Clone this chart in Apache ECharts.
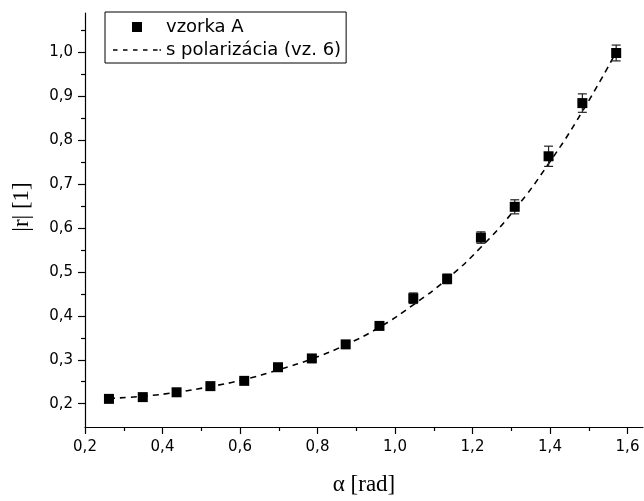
<!DOCTYPE html>
<html>
<head>
<meta charset="utf-8">
<script src="https://cdn.jsdelivr.net/npm/echarts@6/dist/echarts.min.js"></script>
<style>html,body{margin:0;padding:0;background:#fff}#c{width:644px;height:501px}</style>
</head>
<body>
<div id="c"></div>
<script>
// measured data (vzorka A)
var alpha = [0.2618, 0.3491, 0.4363, 0.5236, 0.6109, 0.6981, 0.7854, 0.8727, 0.9599, 1.0472, 1.1345, 1.2217, 1.3090, 1.3963, 1.4835, 1.5708];
var rMeas = [0.211, 0.215, 0.226, 0.240, 0.252, 0.283, 0.303, 0.335, 0.377, 0.440, 0.484, 0.578, 0.648, 0.763, 0.884, 0.998];
var rErr  = [0.004, 0.004, 0.004, 0.005, 0.005, 0.006, 0.006, 0.006, 0.006, 0.012, 0.011, 0.013, 0.016, 0.023, 0.021, 0.018];
// fitted curve (s polarizácia, vz. 6)
var rFit  = [0.212, 0.217, 0.226, 0.239, 0.255, 0.277, 0.302, 0.334, 0.374, 0.425, 0.484, 0.556, 0.642, 0.746, 0.865, 1.000];
// ticks
var xMajor = [0.2, 0.4, 0.6, 0.8, 1.0, 1.2, 1.4, 1.6];
var xMinor = [0.3, 0.5, 0.7, 0.9, 1.1, 1.3, 1.5];
var yMajor = [0.2, 0.3, 0.4, 0.5, 0.6, 0.7, 0.8, 0.9, 1.0];
var yMinor = [0.25, 0.35, 0.45, 0.55, 0.65, 0.75, 0.85, 0.95, 1.05];
var seriesNames = ['vzorka A', 's polarizácia (vz. 6)'];

var meas = alpha.map(function (a, i) { return [a, rMeas[i]]; });
var errs = alpha.map(function (a, i) { return [a, rMeas[i], rErr[i]]; });
var fit = alpha.map(function (a, i) { return [a, rFit[i]]; });

var fmt = function (v) { return v.toFixed(1).replace('.', ','); };
var LBL = 'DejaVu Sans';
var SER = 'Liberation Serif';

var chart = echarts.init(document.getElementById('c'), null, {renderer: 'canvas'});
chart.setOption({
  animation: false,
  backgroundColor: '#fff',
  grid: {left: 85, right: 1, top: 13, bottom: 71},
  legend: {
    orient: 'vertical', left: 105, top: 12,
    padding: [6, 5, 4, 8],
    borderColor: '#000', borderWidth: 1, borderRadius: 0,
    itemWidth: 48, itemHeight: 10, itemGap: 5,
    symbolKeepAspect: true,
    textStyle: {fontFamily: LBL, fontSize: 18, color: '#000', lineHeight: 18},
    data: [
      {name: seriesNames[0], icon: 'path://M0 0L10 0L10 10L0 10Z', itemStyle: {color: '#000', opacity: 1}},
      {name: seriesNames[1], icon: 'path://M0 0h4.5v1.4h-4.5zM10 0h4.5v1.4h-4.5zM20 0h4.5v1.4h-4.5zM30 0h4.5v1.4h-4.5zM40 0h4.5v1.4h-4.5zM46.5 0h1.5v1.4h-1.5z', itemStyle: {color: '#000', opacity: 1}}
    ]
  },
  xAxis: [{
    type: 'value', min: 0.2, max: 1.64,
    name: 'α [rad]', nameLocation: 'middle', nameGap: 46,
    nameTextStyle: {fontFamily: SER, fontSize: 23, color: '#000'},
    axisLine: {show: true, onZero: false, lineStyle: {color: '#000', width: 1.2}},
    axisTick: {show: true, length: 7, lineStyle: {color: '#000', width: 1.2}, customValues: xMajor},
    axisLabel: {fontFamily: LBL, fontSize: 15, color: '#000', margin: 13, formatter: fmt, customValues: xMajor},
    splitLine: {show: false}
  }, {
    type: 'value', min: 0.2, max: 1.64, position: 'bottom',
    axisLine: {show: false, onZero: false},
    axisTick: {show: true, length: 4, lineStyle: {color: '#000', width: 1.2}, customValues: xMinor},
    axisLabel: {show: false},
    splitLine: {show: false}
  }],
  yAxis: [{
    type: 'value', min: 0.147, max: 1.089,
    name: '|r| [1]', nameLocation: 'middle', nameGap: 52,
    nameTextStyle: {fontFamily: SER, fontSize: 23, color: '#000', padding: [0, 0, 0, 26]},
    axisLine: {show: true, onZero: false, lineStyle: {color: '#000', width: 1.2}},
    axisTick: {show: true, length: 7, lineStyle: {color: '#000', width: 1.2}, customValues: yMajor},
    axisLabel: {fontFamily: LBL, fontSize: 15, color: '#000', margin: 12, formatter: fmt, customValues: yMajor},
    splitLine: {show: false}
  }, {
    type: 'value', min: 0.147, max: 1.089, position: 'left',
    axisLine: {show: false, onZero: false},
    axisTick: {show: true, length: 4, lineStyle: {color: '#000', width: 1.2}, customValues: yMinor},
    axisLabel: {show: false},
    splitLine: {show: false}
  }],
  series: [{
    name: seriesNames[1], type: 'line', data: fit, smooth: true,
    symbol: 'none', showSymbol: false, z: 2,
    lineStyle: {color: '#000', width: 1.6, type: [6, 5]},
    itemStyle: {color: '#000'}
  }, {
    type: 'custom', data: errs, z: 3, silent: true,
    renderItem: function (params, api) {
      var x = api.value(0), y = api.value(1), e = api.value(2);
      var top = api.coord([x, y + e]);
      var bot = api.coord([x, y - e]);
      var hw = 4.5;
      var st = {stroke: '#222', lineWidth: 1.2};
      return {type: 'group', children: [
        {type: 'line', shape: {x1: top[0], y1: top[1], x2: bot[0], y2: bot[1]}, style: st},
        {type: 'line', shape: {x1: top[0] - hw, y1: top[1], x2: top[0] + hw, y2: top[1]}, style: st},
        {type: 'line', shape: {x1: bot[0] - hw, y1: bot[1], x2: bot[0] + hw, y2: bot[1]}, style: st}
      ]};
    }
  }, {
    name: seriesNames[0], type: 'scatter', data: meas, z: 4,
    symbol: 'rect', symbolSize: 10,
    itemStyle: {color: '#000', opacity: 1}
  }]
});
</script>
</body>
</html>
